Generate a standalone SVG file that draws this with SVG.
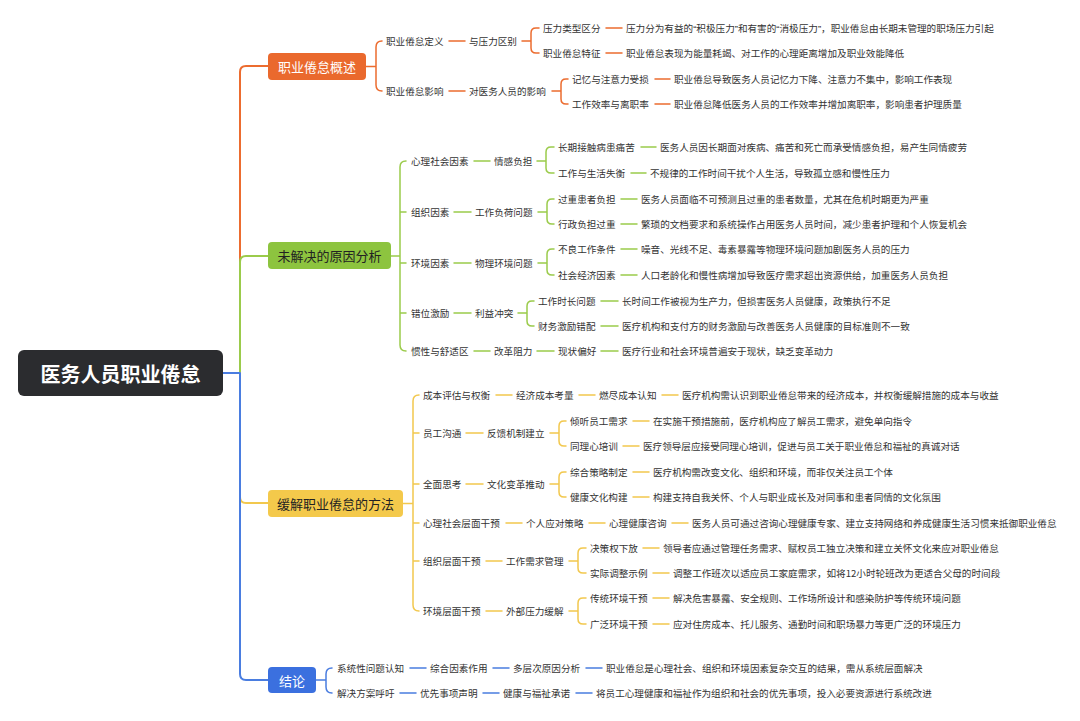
<svg xmlns="http://www.w3.org/2000/svg" width="1080" height="721" viewBox="0 0 1080 721">
<style>
text{font-family:"Noto Sans CJK SC","Noto Sans",sans-serif;dominant-baseline:central}
.t{font-size:9.6px;fill:#333}
.q{font-family:"Liberation Sans",sans-serif}
.m{font-size:13px;text-anchor:middle}
.w{fill:#fff}
.d{fill:#222}
path{fill:none;stroke-linecap:round;stroke-linejoin:round}
.o{stroke:#EC6C2F}
.g{stroke:#9BCB4B}
.y{stroke:#F2C84E}
.b{stroke:#4A7DE0}
.tr{stroke-width:2}
.s{stroke-width:1.5}
</style>
<rect width="1080" height="721" fill="#fff"/>
<g id="connectors">
<path class="o tr" d="M223 373 H240 V72 Q240 66 246 66 H268"/>
<path class="g tr" d="M223 373 H240 V262 Q240 256 246 256 H268"/>
<path class="y tr" d="M223 373 H240 V497 Q240 503 246 503 H268"/>
<path class="b tr" d="M223 373 H240 V674 Q240 680 246 680 H268"/>
<g class="o s">
<path d="M366 66.5 H376 M382 41 Q376 41 376 47 V85 Q376 91 382 91"/>
<path d="M449 41 H465 M449 91 H465"/>
<path d="M522 41 H531 M539 28 H536 Q531 28 531 33 V48 Q531 53 536 53 H539"/>
<path d="M552 91 H561 M568 79 H566 Q561 79 561 84 V99 Q561 104 566 104 H568"/>
<path d="M606 28 H622 M606 53 H622 M655 79 H670 M655 104 H670"/>
</g>
<g class="g s">
<path d="M391 256 H400 M406 161 Q400 161 400 167 V345 Q400 351 406 351 M400 212 H406 M400 263 H406 M400 313 H406"/>
<path d="M474 161 H490 M454 212 H471 M454 263 H471 M454 313 H471 M474 351 H490 M537 351 H554 M601 351 H618"/>
<path d="M537 161 H546 M554 147 H551 Q546 147 546 152 V168 Q546 173 551 173 H554"/>
<path d="M538 212 H547 M554 199 H552 Q547 199 547 204 V219 Q547 224 552 224 H554"/>
<path d="M538 263 H547 M554 249 H552 Q547 249 547 254 V270 Q547 275 552 275 H554"/>
<path d="M518 313 H527 M534 301 H532 Q527 301 527 306 V321 Q527 326 532 326 H534"/>
<path d="M641 147 H656 M631 173 H646 M621 199 H637 M621 224 H637 M621 249 H637 M621 275 H637 M601 301 H618 M601 326 H618"/>
</g>
<g class="y s">
<path d="M403 503.5 H413 M419 395 Q413 395 413 401 V605 Q413 611 419 611 M413 433 H419 M413 484 H419 M413 523 H419 M413 561 H419"/>
<path d="M496 395 H512 M579 395 H595 M662 395 H678 M466 433 H483 M466 484 H483 M506 523 H522 M589 523 H605 M672 523 H688 M486 561 H502 M486 611 H502"/>
<path d="M550 433 H559 M566 421 H564 Q559 421 559 426 V441 Q559 446 564 446 H566"/>
<path d="M550 484 H559 M566 472 H564 Q559 472 559 477 V492 Q559 497 564 497 H566"/>
<path d="M569 561 H578 M586 548 H583 Q578 548 578 553 V568 Q578 573 583 573 H586"/>
<path d="M569 611 H578 M586 598 H583 Q578 598 578 603 V619 Q578 624 583 624 H586"/>
<path d="M633 421 H649 M623 446 H639 M633 472 H649 M633 497 H649 M643 548 H659 M653 573 H669 M653 598 H669 M653 624 H669"/>
</g>
<g class="b s">
<path d="M316 680 H326 M332 668 Q326 668 326 674 V687 Q326 693 332 693"/>
<path d="M410 668 H426 M493 668 H509 M586 668 H602 M400 693 H416 M483 693 H499 M576 693 H592"/>
</g>
</g>
<g id="root"><rect x="18" y="350" width="205" height="46" rx="6" fill="#2B2C2F"/><text x="120.5" y="373" font-size="20" font-weight="bold" fill="#fff" text-anchor="middle">医务人员职业倦怠</text></g>
<g id="n1"><rect x="268" y="53" width="98" height="27" rx="4" fill="#EA692D"/><text class="m w" x="317" y="66.5">职业倦怠概述</text></g>
<g id="n2"><rect x="268" y="242" width="123" height="27" rx="4" fill="#8DC43F"/><text class="m d" x="329.5" y="255.5">未解决的原因分析</text></g>
<g id="n3"><rect x="268" y="490" width="135" height="27" rx="4" fill="#F4C94B"/><text class="m d" x="335.5" y="503.5">缓解职业倦怠的方法</text></g>
<g id="n4"><rect x="268" y="667" width="48" height="26" rx="4" fill="#3B70DF"/><text class="m w" x="292" y="680">结论</text></g>

<g id="n1-1"><text class="t" x="386" y="41">职业倦怠定义</text></g>
<g id="n1-1-1"><text class="t" x="469" y="41">与压力区别</text></g>
<g id="n1-1-1-1"><text class="t" x="543" y="28">压力类型区分</text></g>
<g id="n1-1-1-1-1"><text class="t" x="626" y="28">压力分为有益的<tspan class="q">“</tspan>积极压力<tspan class="q">”</tspan>和有害的<tspan class="q">“</tspan>消极压力<tspan class="q">”</tspan>，职业倦怠由长期未管理的职场压力引起</text></g>
<g id="n1-1-1-2"><text class="t" x="543" y="53">职业倦怠特征</text></g>
<g id="n1-1-1-2-1"><text class="t" x="626" y="53">职业倦怠表现为能量耗竭、对工作的心理距离增加及职业效能降低</text></g>
<g id="n1-2"><text class="t" x="386" y="91">职业倦怠影响</text></g>
<g id="n1-2-1"><text class="t" x="469" y="91">对医务人员的影响</text></g>
<g id="n1-2-1-1"><text class="t" x="572" y="79">记忆与注意力受损</text></g>
<g id="n1-2-1-1-1"><text class="t" x="674" y="79">职业倦怠导致医务人员记忆力下降、注意力不集中，影响工作表现</text></g>
<g id="n1-2-1-2"><text class="t" x="572" y="104">工作效率与离职率</text></g>
<g id="n1-2-1-2-1"><text class="t" x="674" y="104">职业倦怠降低医务人员的工作效率并增加离职率，影响患者护理质量</text></g>

<g id="n2-1"><text class="t" x="411" y="161">心理社会因素</text></g>
<g id="n2-1-1"><text class="t" x="494" y="161">情感负担</text></g>
<g id="n2-1-1-1"><text class="t" x="558" y="147">长期接触病患痛苦</text></g>
<g id="n2-1-1-1-1"><text class="t" x="660" y="147">医务人员因长期面对疾病、痛苦和死亡而承受情感负担，易产生同情疲劳</text></g>
<g id="n2-1-1-2"><text class="t" x="558" y="173">工作与生活失衡</text></g>
<g id="n2-1-1-2-1"><text class="t" x="650" y="173">不规律的工作时间干扰个人生活，导致孤立感和慢性压力</text></g>
<g id="n2-2"><text class="t" x="411" y="212">组织因素</text></g>
<g id="n2-2-1"><text class="t" x="475" y="212">工作负荷问题</text></g>
<g id="n2-2-1-1"><text class="t" x="558" y="199">过重患者负担</text></g>
<g id="n2-2-1-1-1"><text class="t" x="641" y="199">医务人员面临不可预测且过重的患者数量，尤其在危机时期更为严重</text></g>
<g id="n2-2-1-2"><text class="t" x="558" y="224">行政负担过重</text></g>
<g id="n2-2-1-2-1"><text class="t" x="641" y="224">繁琐的文档要求和系统操作占用医务人员时间，减少患者护理和个人恢复机会</text></g>
<g id="n2-3"><text class="t" x="411" y="263">环境因素</text></g>
<g id="n2-3-1"><text class="t" x="475" y="263">物理环境问题</text></g>
<g id="n2-3-1-1"><text class="t" x="558" y="249">不良工作条件</text></g>
<g id="n2-3-1-1-1"><text class="t" x="641" y="249">噪音、光线不足、毒素暴露等物理环境问题加剧医务人员的压力</text></g>
<g id="n2-3-1-2"><text class="t" x="558" y="275">社会经济因素</text></g>
<g id="n2-3-1-2-1"><text class="t" x="641" y="275">人口老龄化和慢性病增加导致医疗需求超出资源供给，加重医务人员负担</text></g>
<g id="n2-4"><text class="t" x="411" y="313">错位激励</text></g>
<g id="n2-4-1"><text class="t" x="475" y="313">利益冲突</text></g>
<g id="n2-4-1-1"><text class="t" x="538" y="301">工作时长问题</text></g>
<g id="n2-4-1-1-1"><text class="t" x="622" y="301">长时间工作被视为生产力，但损害医务人员健康，政策执行不足</text></g>
<g id="n2-4-1-2"><text class="t" x="538" y="326">财务激励错配</text></g>
<g id="n2-4-1-2-1"><text class="t" x="622" y="326">医疗机构和支付方的财务激励与改善医务人员健康的目标准则不一致</text></g>
<g id="n2-5"><text class="t" x="411" y="351">惯性与舒适区</text></g>
<g id="n2-5-1"><text class="t" x="494" y="351">改革阻力</text></g>
<g id="n2-5-1-1"><text class="t" x="558" y="351">现状偏好</text></g>
<g id="n2-5-1-1-1"><text class="t" x="622" y="351">医疗行业和社会环境普遍安于现状，缺乏变革动力</text></g>

<g id="n3-1"><text class="t" x="423" y="395">成本评估与权衡</text></g>
<g id="n3-1-1"><text class="t" x="516" y="395">经济成本考量</text></g>
<g id="n3-1-1-1"><text class="t" x="599" y="395">燃尽成本认知</text></g>
<g id="n3-1-1-1-1"><text class="t" x="682" y="395">医疗机构需认识到职业倦怠带来的经济成本，并权衡缓解措施的成本与收益</text></g>
<g id="n3-2"><text class="t" x="423" y="433">员工沟通</text></g>
<g id="n3-2-1"><text class="t" x="487" y="433">反馈机制建立</text></g>
<g id="n3-2-1-1"><text class="t" x="570" y="421">倾听员工需求</text></g>
<g id="n3-2-1-1-1"><text class="t" x="653" y="421">在实施干预措施前，医疗机构应了解员工需求，避免单向指令</text></g>
<g id="n3-2-1-2"><text class="t" x="570" y="446">同理心培训</text></g>
<g id="n3-2-1-2-1"><text class="t" x="643" y="446">医疗领导层应接受同理心培训，促进与员工关于职业倦怠和福祉的真诚对话</text></g>
<g id="n3-3"><text class="t" x="423" y="484">全面思考</text></g>
<g id="n3-3-1"><text class="t" x="487" y="484">文化变革推动</text></g>
<g id="n3-3-1-1"><text class="t" x="570" y="472">综合策略制定</text></g>
<g id="n3-3-1-1-1"><text class="t" x="653" y="472">医疗机构需改变文化、组织和环境，而非仅关注员工个体</text></g>
<g id="n3-3-1-2"><text class="t" x="570" y="497">健康文化构建</text></g>
<g id="n3-3-1-2-1"><text class="t" x="653" y="497">构建支持自我关怀、个人与职业成长及对同事和患者同情的文化氛围</text></g>
<g id="n3-4"><text class="t" x="423" y="523">心理社会层面干预</text></g>
<g id="n3-4-1"><text class="t" x="526" y="523">个人应对策略</text></g>
<g id="n3-4-1-1"><text class="t" x="609" y="523">心理健康咨询</text></g>
<g id="n3-4-1-1-1"><text class="t" x="692" y="523">医务人员可通过咨询心理健康专家、建立支持网络和养成健康生活习惯来抵御职业倦怠</text></g>
<g id="n3-5"><text class="t" x="423" y="561">组织层面干预</text></g>
<g id="n3-5-1"><text class="t" x="506" y="561">工作需求管理</text></g>
<g id="n3-5-1-1"><text class="t" x="590" y="548">决策权下放</text></g>
<g id="n3-5-1-1-1"><text class="t" x="663" y="548">领导者应通过管理任务需求、赋权员工独立决策和建立关怀文化来应对职业倦怠</text></g>
<g id="n3-5-1-2"><text class="t" x="590" y="573">实际调整示例</text></g>
<g id="n3-5-1-2-1"><text class="t" x="673" y="573">调整工作班次以适应员工家庭需求，如将12小时轮班改为更适合父母的时间段</text></g>
<g id="n3-6"><text class="t" x="423" y="611">环境层面干预</text></g>
<g id="n3-6-1"><text class="t" x="506" y="611">外部压力缓解</text></g>
<g id="n3-6-1-1"><text class="t" x="590" y="598">传统环境干预</text></g>
<g id="n3-6-1-1-1"><text class="t" x="673" y="598">解决危害暴露、安全规则、工作场所设计和感染防护等传统环境问题</text></g>
<g id="n3-6-1-2"><text class="t" x="590" y="624">广泛环境干预</text></g>
<g id="n3-6-1-2-1"><text class="t" x="673" y="624">应对住房成本、托儿服务、通勤时间和职场暴力等更广泛的环境压力</text></g>

<g id="n4-1"><text class="t" x="337" y="668">系统性问题认知</text></g>
<g id="n4-1-1"><text class="t" x="430" y="668">综合因素作用</text></g>
<g id="n4-1-1-1"><text class="t" x="513" y="668">多层次原因分析</text></g>
<g id="n4-1-1-1-1"><text class="t" x="606" y="668">职业倦怠是心理社会、组织和环境因素复杂交互的结果，需从系统层面解决</text></g>
<g id="n4-2"><text class="t" x="337" y="693">解决方案呼吁</text></g>
<g id="n4-2-1"><text class="t" x="420" y="693">优先事项声明</text></g>
<g id="n4-2-1-1"><text class="t" x="503" y="693">健康与福祉承诺</text></g>
<g id="n4-2-1-1-1"><text class="t" x="596" y="693">将员工心理健康和福祉作为组织和社会的优先事项，投入必要资源进行系统改进</text></g>
</svg>
